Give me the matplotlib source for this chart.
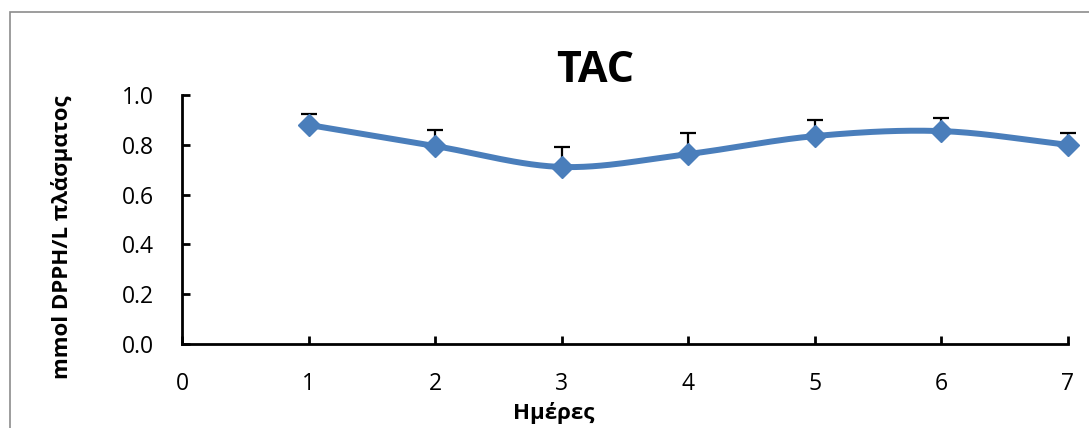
#TAC plot - total antioxidant capacity over days
import numpy as np
import matplotlib.pyplot as plt
from matplotlib.patches import Rectangle

plt.rcParams['font.family'] = ['Open Sans', 'DejaVu Sans']

#Given data
days = [1, 2, 3, 4, 5, 6, 7]
tac = [0.880, 0.795, 0.711, 0.763, 0.835, 0.855, 0.800]
tac_err = [0.045, 0.065, 0.082, 0.083, 0.065, 0.052, 0.048]

#smooth line like Excel (Catmull-Rom through the points)
def smooth(x, y, n=30):
    x = np.asarray(x, float)
    y = np.asarray(y, float)
    px = np.concatenate(([2*x[0]-x[1]], x, [2*x[-1]-x[-2]]))
    py = np.concatenate(([2*y[0]-y[1]], y, [2*y[-1]-y[-2]]))
    xs, ys = [], []
    t = np.linspace(0, 1, n)
    for i in range(1, len(px)-2):
        for p, out in ((px, xs), (py, ys)):
            p0, p1, p2, p3 = p[i-1], p[i], p[i+1], p[i+2]
            out.append(0.5*((2*p1) + (-p0+p2)*t + (2*p0-5*p1+4*p2-p3)*t**2
                            + (-p0+3*p1-3*p2+p3)*t**3))
    return np.concatenate(xs), np.concatenate(ys)

W, H = 1089, 428
fig = plt.figure(figsize=(W/100, H/100), dpi=100)
fig.patches.append(Rectangle((10/W, -0.1), 1.2, (H-12)/H+0.1,
                             transform=fig.transFigure, fill=False,
                             edgecolor='#8c8c8c', linewidth=1.2))
ax = fig.add_axes([182/W, (H-344)/H, (1068-182)/W, (344-95)/H])

blue = '#4a7ebb'
sx, sy = smooth(days, tac)
eb = ax.errorbar(days, tac, yerr=[np.zeros(len(tac_err)), tac_err], fmt='none',
                 ecolor='black', elinewidth=1.6, capsize=6, capthick=1.6, zorder=2)
for art in eb.lines[1] + eb.lines[2]:
    art.set_clip_on(False)
ax.plot(sx, sy, color=blue, linewidth=4.3, zorder=3, clip_on=False)
ax.plot(days, tac, linestyle='none', marker='D', markersize=11,
        color=blue, zorder=4, clip_on=False)

ax.set_xlim(0, 7)
ax.set_ylim(0, 1.0)
ax.set_xticks(range(0, 8))
ax.set_yticks(np.arange(0, 1.01, 0.2))
ax.set_yticklabels(['%.1f' % v for v in np.arange(0, 1.01, 0.2)])
ax.spines['top'].set_visible(False)
ax.spines['right'].set_visible(False)
ax.spines['left'].set_linewidth(2)
ax.spines['bottom'].set_linewidth(2)
ax.tick_params(axis='both', direction='in', length=6, width=2, labelsize=16.5)
ax.tick_params(axis='x', pad=20)
ax.tick_params(axis='y', pad=20)

fig.text(595/W, 1-70/H, 'TAC', fontsize=31, fontweight='bold',
         ha='center', va='center')
fig.text(554/W, 1-413/H, 'Ημέρες', fontsize=16, fontweight='bold',
         ha='center', va='center')
fig.text(62/W, 1-237/H, 'mmol DPPH/L πλάσματος', fontsize=16,
         fontweight='bold', rotation=90, ha='center', va='center')

plt.savefig('out.png', dpi=100)
